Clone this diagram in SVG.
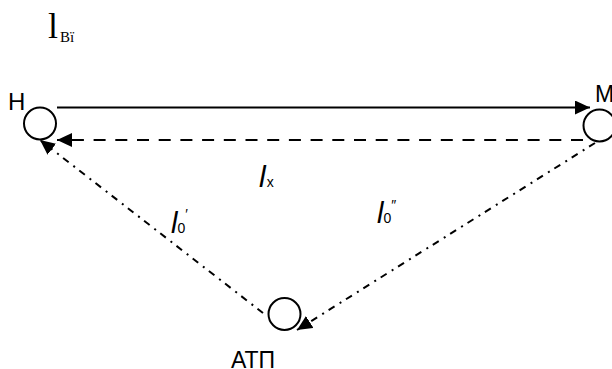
<svg xmlns="http://www.w3.org/2000/svg" width="612" height="369" viewBox="0 0 612 369">
<style>
.node{fill:none;stroke:#000;stroke-width:2}
.lbl{font-family:"Liberation Sans",Arial,sans-serif;fill:#000}
.it{font-family:"Liberation Sans",Arial,sans-serif;font-style:italic;fill:#000}
.sub{font-family:"Liberation Sans",Arial,sans-serif;font-style:normal;fill:#000}
.c{fill:none;stroke:#000;stroke-width:2}
.solid{}
.dash{stroke-dasharray:12 9.7}
.dd{stroke-dasharray:7 5.5 2 6}
</style>
<defs>
<marker id="ah" markerUnits="userSpaceOnUse" markerWidth="16" markerHeight="15" refX="15" refY="7" orient="auto">
<path d="M0,0 L15,7 L0,14 z" fill="#000"/>
</marker>
</defs>
<rect width="612" height="369" fill="#fff"/>
<g id="title">
<text x="48" y="38" font-family="Liberation Serif,Times New Roman,serif" font-size="36">l</text>
<text x="60" y="42" font-family="Liberation Serif,Times New Roman,serif" font-size="15">Bї</text>
</g>
<g id="node-H">
<circle class="node" cx="40" cy="123.5" r="16"/>
<text class="lbl" x="8" y="110" font-size="24">H</text>
</g>
<g id="node-M">
<circle class="node" cx="599.5" cy="125.5" r="16"/>
<text class="lbl" x="595" y="101.5" font-size="23">M</text>
</g>
<g id="node-ATP">
<circle class="node" cx="284.5" cy="314" r="16"/>
<text class="lbl" x="231" y="368" font-size="23">АТП</text>
</g>
<g id="connectors">
<line class="c solid" x1="57" y1="107.5" x2="590" y2="107.5" marker-end="url(#ah)"/>
<line class="c dash" x1="583" y1="140" x2="57" y2="140" marker-end="url(#ah)"/>
<line class="c dd" x1="263" y1="313" x2="40" y2="140" marker-end="url(#ah)"/>
<line class="c dd" x1="595" y1="143" x2="297" y2="330" marker-end="url(#ah)"/>
</g>
<g id="labels">
<text class="it" x="259" y="187" font-size="30">l<tspan class="sub" font-size="14" dx="1">x</tspan></text>
<text class="it" x="171" y="233" font-size="29">l<tspan class="sub" font-size="14" dx="0">0</tspan><tspan class="sub" font-size="14" dy="-14">′</tspan></text>
<text class="it" x="377" y="223" font-size="29">l<tspan class="sub" font-size="14" dx="0">0</tspan><tspan class="sub" font-size="14" dy="-13">″</tspan></text>
</g>
</svg>
